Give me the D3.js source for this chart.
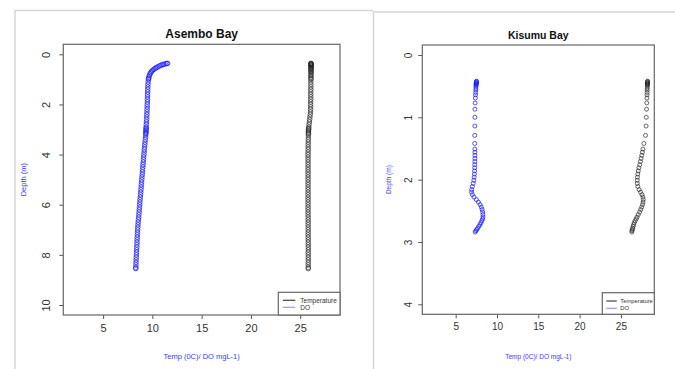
<!DOCTYPE html>
<html>
<head>
<meta charset="utf-8">
<script src="https://cdn.jsdelivr.net/npm/d3@7"></script>
<style>
  html, body { margin: 0; padding: 0; background: #fff; }
  svg { display: block; font-family: "Liberation Sans", Arial, sans-serif; }
</style>
</head>
<body>
<svg id="chart" width="675" height="369"></svg>
<script>
// ---- Asembo Bay profile ----
const asemboDepth = [0.36,0.37,0.38,0.40,0.42,0.44,0.47,0.50,0.53,0.56,0.60,0.64,0.68,0.73,0.78,0.84,0.90,0.96,
  1.0,1.1,1.2,1.3,1.4,1.5,1.6,1.7,1.8,1.9,2.0,2.1,2.2,2.3,2.4,2.5,2.6,2.7,2.8,2.9,2.95,3.0,3.05,3.1,3.15,3.2,
  3.3,3.4,3.5,3.6,3.7,3.8,3.9,4.0,4.1,4.2,4.3,4.4,4.5,4.6,4.7,4.8,4.9,5.0,5.1,5.2,5.3,5.4,5.5,5.6,5.7,5.8,5.9,
  6.0,6.1,6.2,6.3,6.4,6.5,6.6,6.7,6.8,6.9,7.0,7.1,7.2,7.3,7.4,7.5,7.6,7.7,7.8,7.9,8.0,8.1,8.2,8.3,8.4,8.5,8.55];
const asemboDO = [11.55,11.45,11.30,11.15,11.00,10.85,10.70,10.55,10.40,10.28,10.15,10.02,9.92,9.83,9.76,9.70,9.65,9.62,
  9.60,9.57,9.55,9.54,9.53,9.52,9.51,9.50,9.50,9.49,9.48,9.47,9.46,9.45,9.44,9.43,9.42,9.40,9.38,9.37,9.36,9.36,9.35,9.35,9.34,9.33,
  9.31,9.28,9.26,9.23,9.21,9.18,9.16,9.14,9.12,9.10,9.07,9.05,9.03,9.01,8.99,8.97,8.94,8.92,8.90,8.88,8.86,8.84,8.82,8.80,8.77,8.75,8.73,
  8.71,8.69,8.67,8.65,8.63,8.61,8.58,8.56,8.54,8.52,8.50,8.49,8.48,8.46,8.45,8.44,8.43,8.42,8.40,8.39,8.38,8.36,8.35,8.34,8.33,8.32,8.31];
const asemboTemp = [26.10,26.10,26.10,26.10,26.10,26.10,26.10,26.10,26.10,26.10,26.10,26.10,26.10,26.10,26.10,26.09,26.09,26.09,
  26.09,26.08,26.08,26.08,26.08,26.07,26.07,26.07,26.07,26.06,26.06,26.06,26.05,26.05,26.02,25.99,25.96,25.93,25.90,25.87,25.86,25.85,25.84,25.84,25.84,25.83,
  25.83,25.82,25.82,25.81,25.81,25.81,25.80,25.80,25.80,25.80,25.80,25.80,25.80,25.80,25.80,25.80,25.80,25.80,25.80,25.80,25.80,25.80,25.80,25.80,25.80,25.80,25.80,
  25.80,25.80,25.80,25.80,25.80,25.81,25.81,25.81,25.81,25.81,25.81,25.81,25.81,25.81,25.82,25.82,25.82,25.82,25.82,25.82,25.82,25.82,25.82,25.82,25.82,25.82,25.82];

// ---- Kisumu Bay profile ----
const kisumuDepth = [0.42,0.43,0.44,0.45,0.46,0.47,0.48,0.50,0.53,0.56,0.60,0.64,0.69,0.77,0.87,1.00,1.14,1.29,1.42,1.51,
  1.56,1.61,1.66,1.71,1.76,1.81,1.86,1.91,1.96,2.01,2.06,2.11,2.16,2.20,2.24,2.28,2.32,2.36,2.40,2.44,2.48,2.52,2.56,
  2.60,2.63,2.66,2.69,2.72,2.75,2.78,2.80,2.82,2.84];
const kisumuDO = [7.52,7.52,7.50,7.50,7.48,7.48,7.47,7.46,7.45,7.44,7.42,7.40,7.38,7.35,7.33,7.32,7.32,7.31,7.31,7.32,
  7.33,7.33,7.33,7.32,7.31,7.30,7.29,7.27,7.24,7.20,7.12,7.02,6.94,6.92,7.02,7.22,7.50,7.75,7.95,8.10,8.20,8.27,8.30,
  8.30,8.26,8.18,8.06,7.94,7.80,7.66,7.55,7.45,7.36];
const kisumuTemp = [28.22,28.22,28.22,28.21,28.21,28.20,28.20,28.20,28.19,28.18,28.17,28.16,28.15,28.13,28.10,28.07,28.05,27.98,27.78,27.66,
  27.60,27.52,27.44,27.36,27.28,27.18,27.10,27.04,27.00,26.98,26.98,27.05,27.20,27.38,27.55,27.66,27.70,27.68,27.62,27.52,27.40,27.26,27.10,
  26.95,26.84,26.72,26.62,26.54,26.48,26.42,26.38,26.34,26.32];

// ---- axis ticks and labels ----
const xTicks = [5, 10, 15, 20, 25];
const asemboDepthTicks = [0, 2, 4, 6, 8, 10];
const kisumuDepthTicks = [0, 1, 2, 3, 4];
const xLimits = [2, 28];
const legendLabels = ["Temperature", "DO"];
const xAxisTitle = "Temp (0C)/ DO mgL-1)";
const yAxisTitle = "Depth (m)";

const svg = d3.select("#chart");

// frames around the two figures
const frame = svg.append("g").attr("stroke", "#d6d6d6").attr("stroke-width", 1.5).attr("fill", "none");
frame.append("path").attr("d", "M15,369 V10.5 H373");
frame.append("path").attr("d", "M373.5,369 V12 H675");

// R-style 4% padding around the limits
function padded(lim) {
  const ext = (lim[1] - lim[0]) * 0.04;
  return [lim[0] - ext, lim[1] + ext];
}

const intFmt = d3.format("d");

function drawPanel(p) {
  const g = svg.append("g");
  const x = d3.scaleLinear().domain(padded(xLimits)).range([p.left, p.right]);
  const yd = padded([0, p.yMax]);
  const y = d3.scaleLinear().domain(yd).range([p.top, p.bottom]);

  // title
  g.append("text").attr("x", (p.left + p.right) / 2).attr("y", p.titleY)
    .attr("text-anchor", "middle").attr("font-weight", "bold")
    .attr("font-size", p.titleSize).attr("fill", "#111").text(p.title);

  // x axis
  const xa = g.append("g").attr("transform", `translate(0,${p.bottom})`)
    .call(d3.axisBottom(x).tickValues(xTicks).tickFormat(intFmt).tickSize(4).tickSizeOuter(0).tickPadding(5));
  xa.select(".domain").remove();
  xa.selectAll("line").attr("stroke", "#555");
  xa.selectAll("text").attr("font-size", p.tickSize).attr("fill", "#333")
    .attr("font-family", "Liberation Sans, Arial, sans-serif");

  // y axis with labels turned parallel to the axis
  const ya = g.append("g").attr("transform", `translate(${p.left},0)`)
    .call(d3.axisLeft(y).tickValues(p.yTicks).tickFormat(intFmt).tickSize(4).tickSizeOuter(0));
  ya.select(".domain").remove();
  ya.selectAll("line").attr("stroke", "#555");
  ya.selectAll("text")
    .attr("x", null).attr("dy", null)
    .attr("text-anchor", "middle")
    .attr("transform", `translate(${-p.left + p.yLabelX},0) rotate(-90)`)
    .attr("dy", "0.35em")
    .attr("font-size", p.tickSize).attr("fill", "#333")
    .attr("font-family", "Liberation Sans, Arial, sans-serif");

  // axis titles
  g.append("text").attr("x", (p.left + p.right) / 2).attr("y", p.xTitleY)
    .attr("text-anchor", "middle").attr("font-size", p.axisTitleSize)
    .attr("fill", "#3a3aff").text(xAxisTitle);
  g.append("text").attr("transform", `translate(${p.yTitleX},${(p.top + p.bottom) / 2}) rotate(-90)`)
    .attr("text-anchor", "middle").attr("font-size", p.axisTitleSize)
    .attr("fill", "#3a3aff").text(yAxisTitle);

  // profiles
  const temps = p.depth.map((d, i) => ({ d, v: p.temp[i] }));
  const dos = p.depth.map((d, i) => ({ d, v: p.dox[i] }));
  g.append("g").selectAll("circle").data(temps).join("circle")
    .attr("cx", d => x(d.v)).attr("cy", d => y(d.d)).attr("r", p.r)
    .attr("fill", "none").attr("stroke", "#222").attr("stroke-opacity", 0.75).attr("stroke-width", 0.9);
  g.append("g").selectAll("circle").data(dos).join("circle")
    .attr("cx", d => x(d.v)).attr("cy", d => y(d.d)).attr("r", p.r)
    .attr("fill", "none").attr("stroke", "#1515ff").attr("stroke-opacity", 0.8).attr("stroke-width", 0.9);

  // plot box
  g.append("rect").attr("x", p.left).attr("y", p.top)
    .attr("width", p.right - p.left).attr("height", p.bottom - p.top)
    .attr("fill", "none").attr("stroke", "#666").attr("stroke-width", 1.2);

  // legend
  const lg = g.append("g");
  lg.append("rect").attr("x", p.legX).attr("y", p.legY)
    .attr("width", p.right - p.legX).attr("height", p.bottom - p.legY)
    .attr("fill", "#fff").attr("stroke", "#666").attr("stroke-width", 1.2);
  const legColors = ["#444", "#9a9aff"];
  legendLabels.forEach((lab, i) => {
    const ly = p.legY + p.legRow0 + i * p.legStep;
    lg.append("line").attr("x1", p.legX + p.legLine[0]).attr("x2", p.legX + p.legLine[1])
      .attr("y1", ly).attr("y2", ly).attr("stroke", legColors[i]).attr("stroke-width", 1.2);
    lg.append("text").attr("x", p.legX + p.legText).attr("y", ly).attr("dy", "0.35em")
      .attr("font-size", p.legSize).attr("fill", "#333").text(lab);
  });
}

drawPanel({
  title: "Asembo Bay", left: 63.3, right: 340, top: 44.3, bottom: 315,
  yMax: 10, yTicks: asemboDepthTicks, depth: asemboDepth, temp: asemboTemp, dox: asemboDO,
  titleY: 38, titleSize: 12, tickSize: 11, yLabelX: 46, xTitleY: 359, yTitleX: 26,
  axisTitleSize: 7.5, r: 2.3,
  legX: 278.3, legY: 292.3, legRow0: 8, legStep: 7, legLine: [4.5, 17], legText: 22, legSize: 6.5
});

drawPanel({
  title: "Kisumu Bay", left: 422.3, right: 654.3, top: 45, bottom: 314.3,
  yMax: 4, yTicks: kisumuDepthTicks, depth: kisumuDepth, temp: kisumuTemp, dox: kisumuDO,
  titleY: 38.5, titleSize: 10.5, tickSize: 10, yLabelX: 408, xTitleY: 359, yTitleX: 391,
  axisTitleSize: 6.5, r: 2,
  legX: 602.3, legY: 292.7, legRow0: 8.3, legStep: 7.3, legLine: [4, 14.5], legText: 18, legSize: 5.8
});
</script>
</body>
</html>
